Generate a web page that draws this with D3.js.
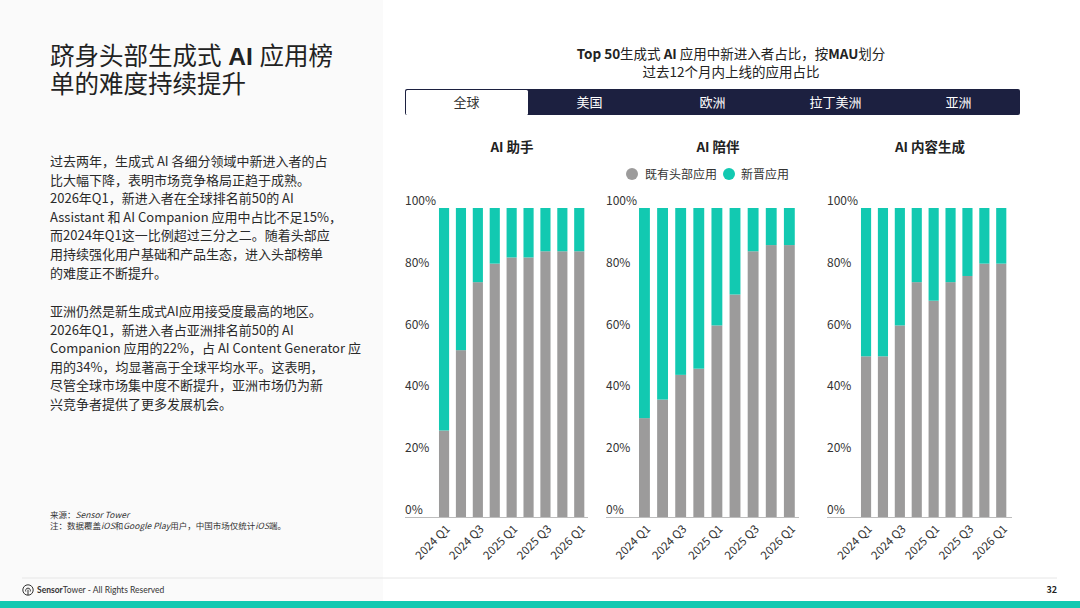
<!DOCTYPE html>
<html>
<head>
<meta charset="utf-8">
<script src="https://cdn.jsdelivr.net/npm/d3@7"></script>
<style>
  html, body { margin: 0; padding: 0; background: #fff; }
  svg { display: block; font-family: "Noto Sans CJK SC", "Noto Sans", sans-serif; }
</style>
</head>
<body>
<svg id="chart" width="1080" height="608"></svg>
<script>
/* Top 50 generative AI apps: share of incumbents vs new entrants, global tab. */

const quarters = ["2024 Q1", "2024 Q2", "2024 Q3", "2024 Q4",
                  "2025 Q1", "2025 Q2", "2025 Q3", "2025 Q4", "2026 Q1"];
const shownTicks = ["2024 Q1", "2024 Q3", "2025 Q1", "2025 Q3", "2026 Q1"];
const panelTitles = ["AI 助手", "AI 陪伴", "AI 内容生成"];
const seriesNames = ["既有头部应用", "新晋应用"];
const yTicks = [0, 20, 40, 60, 80, 100];
const tabs = ["全球", "美国", "欧洲", "拉丁美洲", "亚洲"];

// incumbent share (%) per quarter; new entrants = 100 - incumbent
const assistant = [28, 54, 76, 82, 84, 84, 86, 86, 86];
const companion = [32, 38, 46, 48, 62, 72, 86, 88, 88];
const contentGen = [52, 52, 62, 76, 70, 76, 78, 82, 82];

const para1 = [
  "过去两年，生成式 AI 各细分领域中新进入者的占",
  "比大幅下降，表明市场竞争格局正趋于成熟。",
  "2026年Q1，新进入者在全球排名前50的 AI",
  "Assistant 和 AI Companion 应用中占比不足15%，",
  "而2024年Q1这一比例超过三分之二。随着头部应",
  "用持续强化用户基础和产品生态，进入头部榜单",
  "的难度正不断提升。"
];
const para2 = [
  "亚洲仍然是新生成式AI应用接受度最高的地区。",
  "2026年Q1，新进入者占亚洲排名前50的 AI",
  "Companion 应用的22%，占 AI Content Generator 应",
  "用的34%，均显著高于全球平均水平。这表明，",
  "尽管全球市场集中度不断提升，亚洲市场仍为新",
  "兴竞争者提供了更多发展机会。"
];

const GRAY = "#9c9b9b", TEAL = "#12c9b1", NAVY = "#1c2040";

const svg = d3.select("#chart");

// --- page frame --------------------------------------------------------
svg.append("rect").attr("x", 0).attr("y", 0).attr("width", 383).attr("height", 601)
  .attr("fill", "#fafafa");
svg.append("line").attr("x1", 22).attr("x2", 1057).attr("y1", 578).attr("y2", 578)
  .attr("stroke", "#e6e6e6");
svg.append("rect").attr("x", 0).attr("y", 601).attr("width", 1080).attr("height", 7)
  .attr("fill", TEAL);

// --- left text column --------------------------------------------------
// two-line heading; Latin primary font keeps the line boxes compact
svg.append("text").attr("x", 50).attr("y", 65)
  .attr("font-family", "'Liberation Sans', 'Noto Sans CJK SC', sans-serif")
  .attr("font-size", 24.5).attr("fill", "#222")
  .call(t => {
    t.append("tspan").text("跻身头部生成式 ");
    t.append("tspan").attr("font-weight", "bold").text("AI");
    t.append("tspan").text(" 应用榜");
    t.append("tspan").attr("x", 50).attr("dy", 27.6).text("单的难度持续提升");
  });

function paragraph(lines, y0) {
  svg.append("g").selectAll("text").data(lines).join("text")
    .attr("x", 50).attr("y", (d, i) => y0 + i * 18.6)
    .attr("font-size", 13).attr("fill", "#2a2a2a")
    .text(d => d);
}
paragraph(para1, 166);
paragraph(para2, 316);

const note = svg.append("g").attr("font-size", 8.5).attr("fill", "#333");
note.append("text").attr("x", 50).attr("y", 518)
  .call(t => { t.append("tspan").text("来源："); t.append("tspan").attr("font-style", "italic").text("Sensor Tower"); });
note.append("text").attr("x", 50).attr("y", 529)
  .call(t => {
    t.append("tspan").text("注：数据覆盖");
    t.append("tspan").attr("font-style", "italic").text("iOS");
    t.append("tspan").text("和");
    t.append("tspan").attr("font-style", "italic").text("Google Play");
    t.append("tspan").text("用户，中国市场仅统计");
    t.append("tspan").attr("font-style", "italic").text("iOS");
    t.append("tspan").text("端。");
  });

// footer logo + text
const logo = svg.append("g").attr("transform", "translate(28,590)");
logo.append("circle").attr("r", 5.2).attr("fill", "none").attr("stroke", "#333").attr("stroke-width", 1);
logo.append("path").attr("d", "M-2.2,1.5 A2.4,2.4 0 1 1 2.2,1.5 M0,-0.3 L0,5")
  .attr("fill", "none").attr("stroke", "#333").attr("stroke-width", 1);
svg.append("text").attr("x", 37).attr("y", 593).attr("font-size", 8.5).attr("fill", "#333")
  .attr("font-family", "Lato, 'Noto Sans', sans-serif")
  .call(t => {
    t.append("tspan").attr("font-weight", "bold").text("Sensor");
    t.append("tspan").text("Tower - All Rights Reserved");
  });
svg.append("text").attr("x", 1057).attr("y", 593).attr("text-anchor", "end")
  .attr("font-size", 9).attr("font-weight", "bold").attr("fill", "#222").text("32");

// --- chart header ------------------------------------------------------
const head = svg.append("g").attr("text-anchor", "middle").attr("font-size", 13.5).attr("fill", "#222");
head.append("text").attr("x", 731).attr("y", 59)
  .call(t => {
    t.append("tspan").attr("font-weight", "bold").text("Top 50");
    t.append("tspan").text("生成式 ");
    t.append("tspan").attr("font-weight", "bold").text("AI");
    t.append("tspan").text(" 应用中新进入者占比，按");
    t.append("tspan").attr("font-weight", "bold").text("MAU");
    t.append("tspan").text("划分");
  });
head.append("text").attr("x", 731).attr("y", 77).text("过去12个月内上线的应用占比");

// tabs
const tabX = d3.scaleBand().domain(tabs).range([405, 1020]);
svg.append("rect").attr("x", 405).attr("y", 89).attr("width", 615).attr("height", 26)
  .attr("rx", 2).attr("fill", NAVY);
svg.append("rect").attr("x", tabX(tabs[0]) + 1).attr("y", 90)
  .attr("width", tabX.bandwidth() - 1).attr("height", 25)
  .attr("rx", 1.5).attr("fill", "#fff");
svg.append("g").selectAll("text").data(tabs).join("text")
  .attr("x", d => tabX(d) + tabX.bandwidth() / 2).attr("y", 107)
  .attr("text-anchor", "middle").attr("font-size", 13)
  .attr("fill", (d, i) => i === 0 ? "#333" : "#fff")
  .text(d => d);

// legend
const legend = svg.append("g").attr("font-size", 12).attr("fill", "#333");
const legendPos = [[632, 645], [729, 741]];
seriesNames.forEach((name, i) => {
  legend.append("circle").attr("cx", legendPos[i][0]).attr("cy", 174).attr("r", 6)
    .attr("fill", i === 0 ? GRAY : TEAL);
  legend.append("text").attr("x", legendPos[i][1]).attr("y", 178.5).text(name);
});

// --- panels ------------------------------------------------------------
const y = d3.scaleLinear().domain([0, 100]).range([517, 208]);

const panels = [
  { title: panelTitles[0], values: assistant,  axis: [405, 588], bars: [435.6, 587.7], cx: 512 },
  { title: panelTitles[1], values: companion,  axis: [606, 799], bars: [635.4, 798.4], cx: 718 },
  { title: panelTitles[2], values: contentGen, axis: [827, 1012], bars: [857.6, 1009.7], cx: 930 }
];

panels.forEach(p => {
  const g = svg.append("g");
  const x = d3.scaleBand().domain(quarters).range(p.bars).paddingInner(0.4).paddingOuter(0.2);

  g.append("text").attr("x", p.cx).attr("y", 152).attr("text-anchor", "middle")
    .attr("font-size", 13.5).attr("font-weight", "bold").attr("fill", "#222").text(p.title);

  // y tick labels sit just above their gridline value
  g.append("g").selectAll("text").data(yTicks).join("text")
    .attr("x", p.axis[0]).attr("y", d => y(d) - 3)
    .attr("font-size", 12).attr("fill", "#333")
    .text(d => d + "%");

  const rows = quarters.map((q, i) => ({ q, inc: p.values[i], fresh: 100 - p.values[i] }));
  g.append("g").selectAll("rect.inc").data(rows).join("rect")
    .attr("x", d => x(d.q)).attr("width", x.bandwidth())
    .attr("y", d => y(d.inc)).attr("height", d => y(0) - y(d.inc))
    .attr("fill", GRAY);
  g.append("g").selectAll("rect.new").data(rows).join("rect")
    .attr("x", d => x(d.q)).attr("width", x.bandwidth())
    .attr("y", d => y(100)).attr("height", d => y(d.inc) - y(100))
    .attr("fill", TEAL);

  g.append("line").attr("x1", p.axis[0]).attr("x2", p.axis[1])
    .attr("y1", y(0) + 0.5).attr("y2", y(0) + 0.5).attr("stroke", "#bdbdbd");

  g.append("g").selectAll("text").data(shownTicks).join("text")
    .attr("transform", d => `translate(${x(d) + x.bandwidth() / 2 + 1},${y(0) + 7}) rotate(-45)`)
    .attr("text-anchor", "end").attr("dy", "0.7em")
    .attr("font-size", 11.5).attr("fill", "#333")
    .text(d => d);
});
</script>
</body>
</html>
